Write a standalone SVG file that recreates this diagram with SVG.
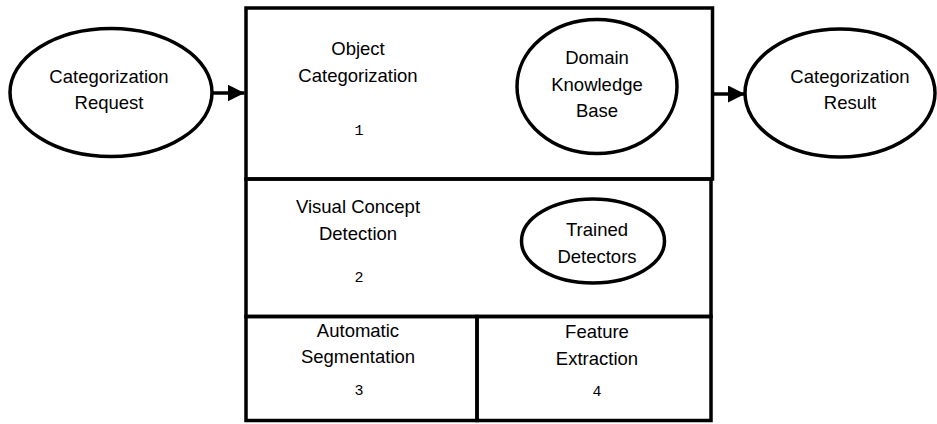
<svg xmlns="http://www.w3.org/2000/svg" width="937" height="424" viewBox="0 0 937 424">
<style>
.s{fill:none;stroke:#000;stroke-width:3.5}
.e{fill:#fff;stroke:#000;stroke-width:3.5}
.t{font-family:"Liberation Sans",Arial,sans-serif;font-size:18.5px;text-anchor:middle;fill:#000}
.n{font-family:"Liberation Mono","Courier New",monospace;font-size:15px;text-anchor:middle;fill:#000}
.c{stroke:#000;stroke-width:3.5;fill:none}
</style>
<defs>
<marker id="ah" markerWidth="17" markerHeight="17" refX="17" refY="8.5" orient="auto" markerUnits="userSpaceOnUse">
<path d="M0,0 L17,8.5 L0,17 Z" fill="#000"/>
</marker>
</defs>
<rect width="937" height="424" fill="#fff"/>
<g id="request">
<ellipse class="e" cx="111" cy="92.5" rx="101" ry="64"/>
<text class="t" x="109" y="83">Categorization</text>
<text class="t" x="109" y="109">Request</text>
</g>
<g id="result">
<ellipse class="e" cx="840" cy="93" rx="95" ry="64"/>
<text class="t" x="850" y="83">Categorization</text>
<text class="t" x="850" y="109">Result</text>
</g>
<g id="object-categorization">
<rect class="s" x="246" y="8" width="466.5" height="171"/>
<text class="t" x="358" y="55">Object</text>
<text class="t" x="358" y="82">Categorization</text>
<text class="n" x="359" y="135">1</text>
</g>
<g id="domain-knowledge-base">
<ellipse class="e" cx="597" cy="86.5" rx="80" ry="67"/>
<text class="t" x="597" y="64">Domain</text>
<text class="t" x="597" y="91">Knowledge</text>
<text class="t" x="597" y="117">Base</text>
</g>
<g id="visual-concept-detection">
<rect class="s" x="246" y="179" width="465" height="137.5"/>
<text class="t" x="358" y="213">Visual Concept</text>
<text class="t" x="358" y="240">Detection</text>
<text class="n" x="359" y="282">2</text>
</g>
<g id="trained-detectors">
<ellipse class="e" cx="593" cy="241" rx="71.5" ry="42"/>
<text class="t" x="597" y="236">Trained</text>
<text class="t" x="597" y="263">Detectors</text>
</g>
<g id="automatic-segmentation">
<rect class="s" x="246" y="316.5" width="231" height="104"/>
<text class="t" x="358" y="337">Automatic</text>
<text class="t" x="358" y="363">Segmentation</text>
<text class="n" x="359" y="395">3</text>
</g>
<g id="feature-extraction">
<rect class="s" x="477" y="316.5" width="234" height="104"/>
<text class="t" x="597" y="338">Feature</text>
<text class="t" x="597" y="365">Extraction</text>
<text class="n" x="597" y="396">4</text>
</g>
<g id="connectors">
<line class="c" x1="212" y1="93" x2="244.5" y2="93" marker-end="url(#ah)"/>
<line class="c" x1="713" y1="94" x2="745" y2="94" marker-end="url(#ah)"/>
</g>
</svg>
